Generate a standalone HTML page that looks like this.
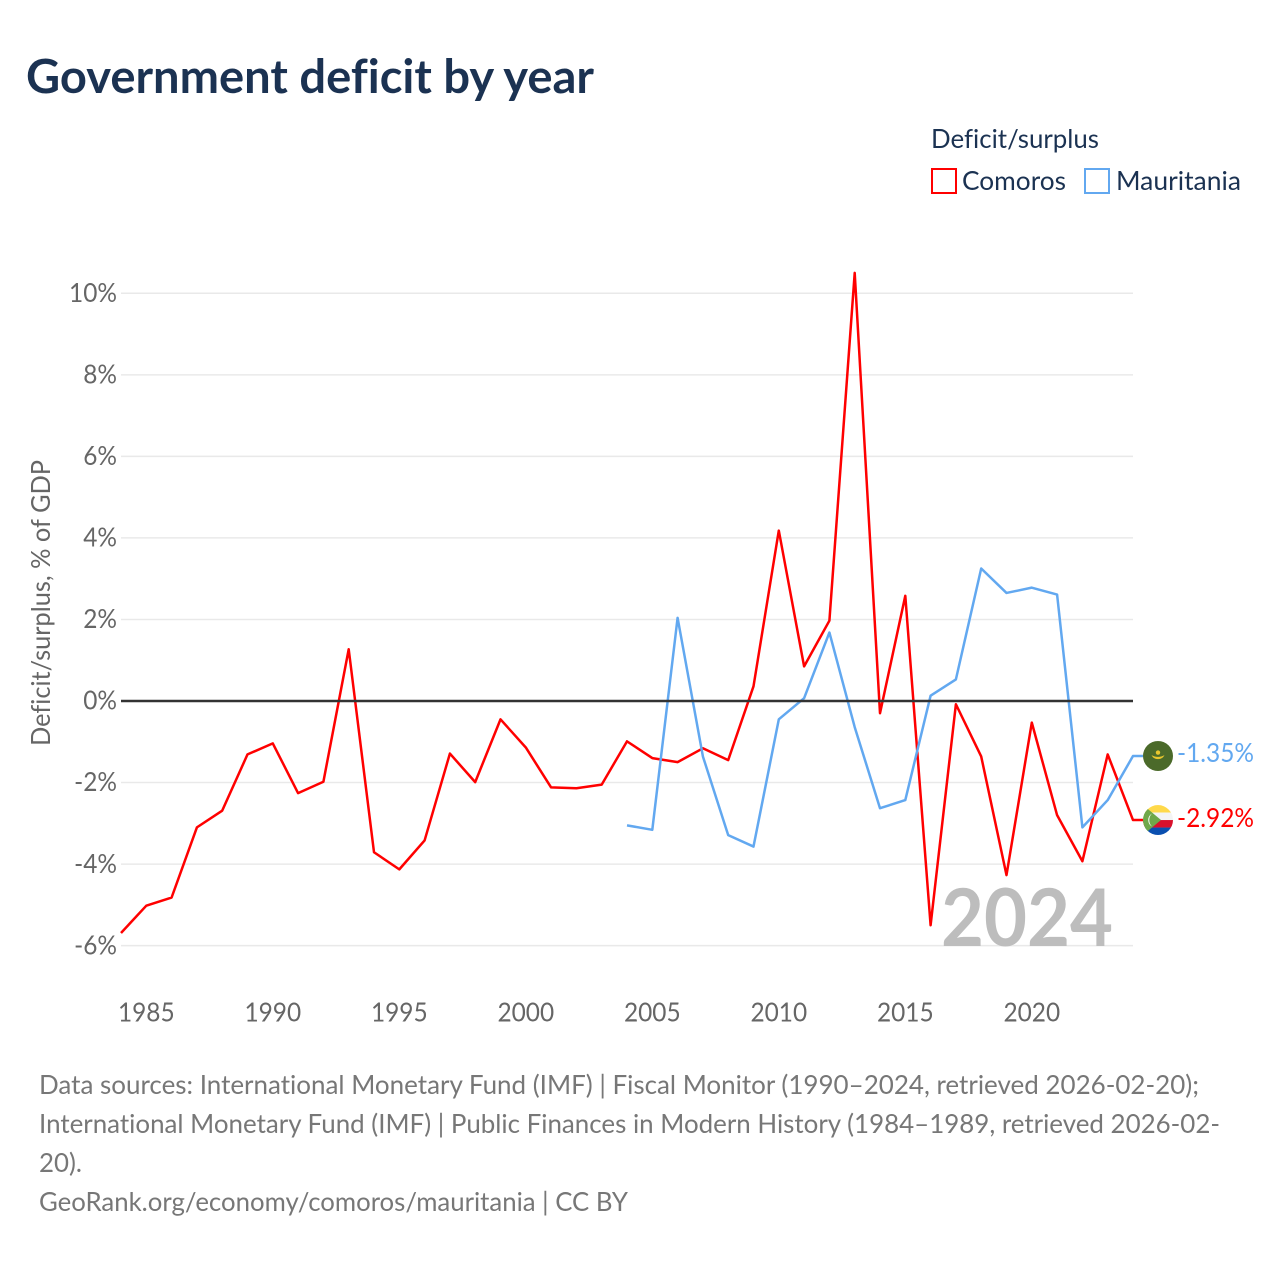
<!DOCTYPE html>
<html lang="en">
<head>
<meta charset="utf-8">
<title>Government deficit by year</title>
<style>
html,body{margin:0;padding:0;background:#fff;}
svg{display:block;font-family:"Lato","Carlito","Liberation Sans",sans-serif;font-variant-ligatures:none;}
</style>
</head>
<body>
<svg id="chart" xmlns="http://www.w3.org/2000/svg" width="1280" height="1280" viewBox="0 0 1280 1280">
  <rect x="0" y="0" width="1280" height="1280" fill="#ffffff"/>
  <text x="26" y="93" font-size="46.5" font-weight="700" fill="#1b3252" textLength="568" lengthAdjust="spacingAndGlyphs">Government deficit by year</text>

  <text x="931" y="148" font-size="26" fill="#1b3252" textLength="168" lengthAdjust="spacingAndGlyphs">Deficit/surplus</text>
  <g>
    <rect x="932" y="169" width="24" height="24" fill="none" stroke="#ff0000" stroke-width="2"/>
    <text x="962" y="190" font-size="26" fill="#1b3252" textLength="104" lengthAdjust="spacingAndGlyphs">Comoros</text>
  </g>
  <g>
    <rect x="1085" y="169" width="24" height="24" fill="none" stroke="#62a8f0" stroke-width="2"/>
    <text x="1116" y="190" font-size="26" fill="#1b3252" textLength="125" lengthAdjust="spacingAndGlyphs">Mauritania</text>
  </g>

  <text transform="translate(50,603) rotate(-90)" text-anchor="middle" font-size="26" fill="#666666" textLength="286" lengthAdjust="spacingAndGlyphs">Deficit/surplus, % of GDP</text>

  <g id="grid"></g>
  <g id="y-ticks"></g>
  <g id="x-ticks"></g>

  <text x="941" y="946" font-size="80" font-weight="700" fill="#bdbdbd" textLength="172" lengthAdjust="spacingAndGlyphs">2024</text>

  <g id="series"></g>
  <g id="zero"></g>
  <g id="end-labels"></g>

  <defs>
    <clipPath id="flag-clip-top"><circle cx="0" cy="0" r="15"/></clipPath>
  </defs>

  <g font-size="26" fill="#777777">
    <text x="39" y="1094" textLength="1160" lengthAdjust="spacingAndGlyphs">Data sources: International Monetary Fund (IMF) | Fiscal Monitor (1990–2024, retrieved 2026-02-20);</text>
    <text x="39" y="1133" textLength="1181" lengthAdjust="spacingAndGlyphs">International Monetary Fund (IMF) | Public Finances in Modern History (1984–1989, retrieved 2026-02-</text>
    <text x="39" y="1172" textLength="43" lengthAdjust="spacingAndGlyphs">20).</text>
    <text x="39" y="1211" textLength="589" lengthAdjust="spacingAndGlyphs">GeoRank.org/economy/comoros/mauritania | CC BY</text>
  </g>
</svg>
<script>
var comorosYears = [1984,1985,1986,1987,1988,1989,1990,1991,1992,1993,1994,1995,1996,1997,1998,1999,2000,2001,2002,2003,2004,2005,2006,2007,2008,2009,2010,2011,2012,2013,2014,2015,2016,2017,2018,2019,2020,2021,2022,2023,2024];
var comorosValues = [-5.69,-5.02,-4.82,-3.10,-2.69,-1.31,-1.04,-2.26,-1.98,1.27,-3.71,-4.13,-3.42,-1.29,-1.99,-0.45,-1.14,-2.12,-2.14,-2.05,-0.99,-1.40,-1.50,-1.16,-1.45,0.36,4.18,0.85,1.97,10.50,-0.30,2.58,-5.50,-0.08,-1.36,-4.27,-0.53,-2.80,-3.93,-1.31,-2.92];
var mauritaniaYears = [2004,2005,2006,2007,2008,2009,2010,2011,2012,2013,2014,2015,2016,2017,2018,2019,2020,2021,2022,2023,2024];
var mauritaniaValues = [-3.05,-3.16,2.04,-1.36,-3.29,-3.57,-0.45,0.07,1.68,-0.64,-2.63,-2.43,0.13,0.53,3.25,2.65,2.78,2.61,-3.10,-2.43,-1.35];
var yTickValues = [-6,-4,-2,0,2,4,6,8,10];
var xTickValues = [1985,1990,1995,2000,2005,2010,2015,2020];
var comorosEndLabel = "-2.92%";
var mauritaniaEndLabel = "-1.35%";

var NS = "http://www.w3.org/2000/svg";
var PLOT_LEFT = 121, PLOT_RIGHT = 1133;
var TICK_SQUEEZE = 0.94;
function xScale(year){ return PLOT_LEFT + (year - 1984) * (PLOT_RIGHT - PLOT_LEFT) / 40; }
function yScale(value){ return 701 - value * 40.77; }
function make(tag, attrs, parent){
  var el = document.createElementNS(NS, tag);
  for (var k in attrs) el.setAttribute(k, attrs[k]);
  parent.appendChild(el);
  return el;
}
function squeeze(textEl){
  textEl.setAttribute("textLength", (textEl.getComputedTextLength() * TICK_SQUEEZE).toFixed(2));
  textEl.setAttribute("lengthAdjust", "spacingAndGlyphs");
}

var gridG = document.getElementById("grid");
var yG = document.getElementById("y-ticks");
yTickValues.forEach(function(v){
  var y = yScale(v);
  if (v !== 0) {
    var gl = make("line", {x1:PLOT_LEFT, x2:PLOT_RIGHT, y1:y, y2:y, stroke:"#e9e9e9", "stroke-width":1.5}, gridG);
    
    
  }
  var t = make("text", {x:117, y:y + 8.7, "text-anchor":"end", "font-size":26, fill:"#666666"}, yG);
  
  
  t.textContent = v + "%";
  squeeze(t);
});

var xG = document.getElementById("x-ticks");
xTickValues.forEach(function(yr){
  var t = make("text", {x:xScale(yr), y:1021.5, "text-anchor":"middle", "font-size":26, fill:"#666666"}, xG);
  
  
  t.textContent = yr;
  squeeze(t);
});

var seriesG = document.getElementById("series");
function drawSeries(years, values, color, name){
  var pts = years.map(function(yr, i){ return xScale(yr).toFixed(2) + "," + yScale(values[i]).toFixed(2); });
  var endY = yScale(values[values.length - 1]);
  pts.push("1143," + endY.toFixed(2));
  var line = make("polyline", {points:pts.join(" "), fill:"none", stroke:color, "stroke-width":2.5, "stroke-linejoin":"round"}, seriesG);
  
  
}
drawSeries(comorosYears, comorosValues, "#ff0000", "line-comoros");
drawSeries(mauritaniaYears, mauritaniaValues, "#62a8f0", "line-mauritania");

var zl = make("line", {x1:PLOT_LEFT, x2:PLOT_RIGHT, y1:yScale(0), y2:yScale(0), stroke:"#333333", "stroke-width":2.5}, document.getElementById("zero"));



var labelsG = document.getElementById("end-labels");
var FX = 1158;

var mEnd = yScale(mauritaniaValues[mauritaniaValues.length - 1]);
var mFlag = make("g", {transform:"translate(" + FX + "," + mEnd + ")", "clip-path":"url(#flag-clip-top)"}, labelsG);


make("rect", {x:-15, y:-15, width:30, height:30, fill:"#4b6a2a"}, mFlag);
make("path", {d:"M-6.5 -1 A7 6.5 0 0 0 6.5 -1 A8 4.5 0 0 1 -6.5 -1 Z", fill:"#e8c62e"}, mFlag);
make("circle", {cx:0, cy:-3.5, r:2.2, fill:"#e8c62e"}, mFlag);
var mLabel = make("text", {x:1177, y:mEnd + 6, "font-size":26, fill:"#62a8f0", textLength:77, lengthAdjust:"spacingAndGlyphs"}, labelsG);


mLabel.textContent = mauritaniaEndLabel;

var cEnd = yScale(comorosValues[comorosValues.length - 1]);
var cFlag = make("g", {transform:"translate(" + FX + "," + cEnd + ")", "clip-path":"url(#flag-clip-top)"}, labelsG);


make("rect", {x:-15, y:-15, width:30, height:7.5, fill:"#ffd94a"}, cFlag);
make("rect", {x:-15, y:-7.5, width:30, height:7.5, fill:"#f4f4f4"}, cFlag);
make("rect", {x:-15, y:0, width:30, height:7.5, fill:"#d8102c"}, cFlag);
make("rect", {x:-15, y:7.5, width:30, height:7.5, fill:"#0a4fb0"}, cFlag);
make("path", {d:"M-15 -15 L3 0 L-15 15 Z", fill:"#6fa84a"}, cFlag);
make("path", {d:"M-6 -6.5 A7.5 7.5 0 0 0 -6 6.5 A9 9 0 0 1 -6 -6.5 Z", fill:"#ffffff"}, cFlag);
var cLabel = make("text", {x:1177, y:cEnd + 7, "font-size":26, fill:"#ff0000", textLength:77, lengthAdjust:"spacingAndGlyphs"}, labelsG);


cLabel.textContent = comorosEndLabel;
</script>
</body>
</html>
